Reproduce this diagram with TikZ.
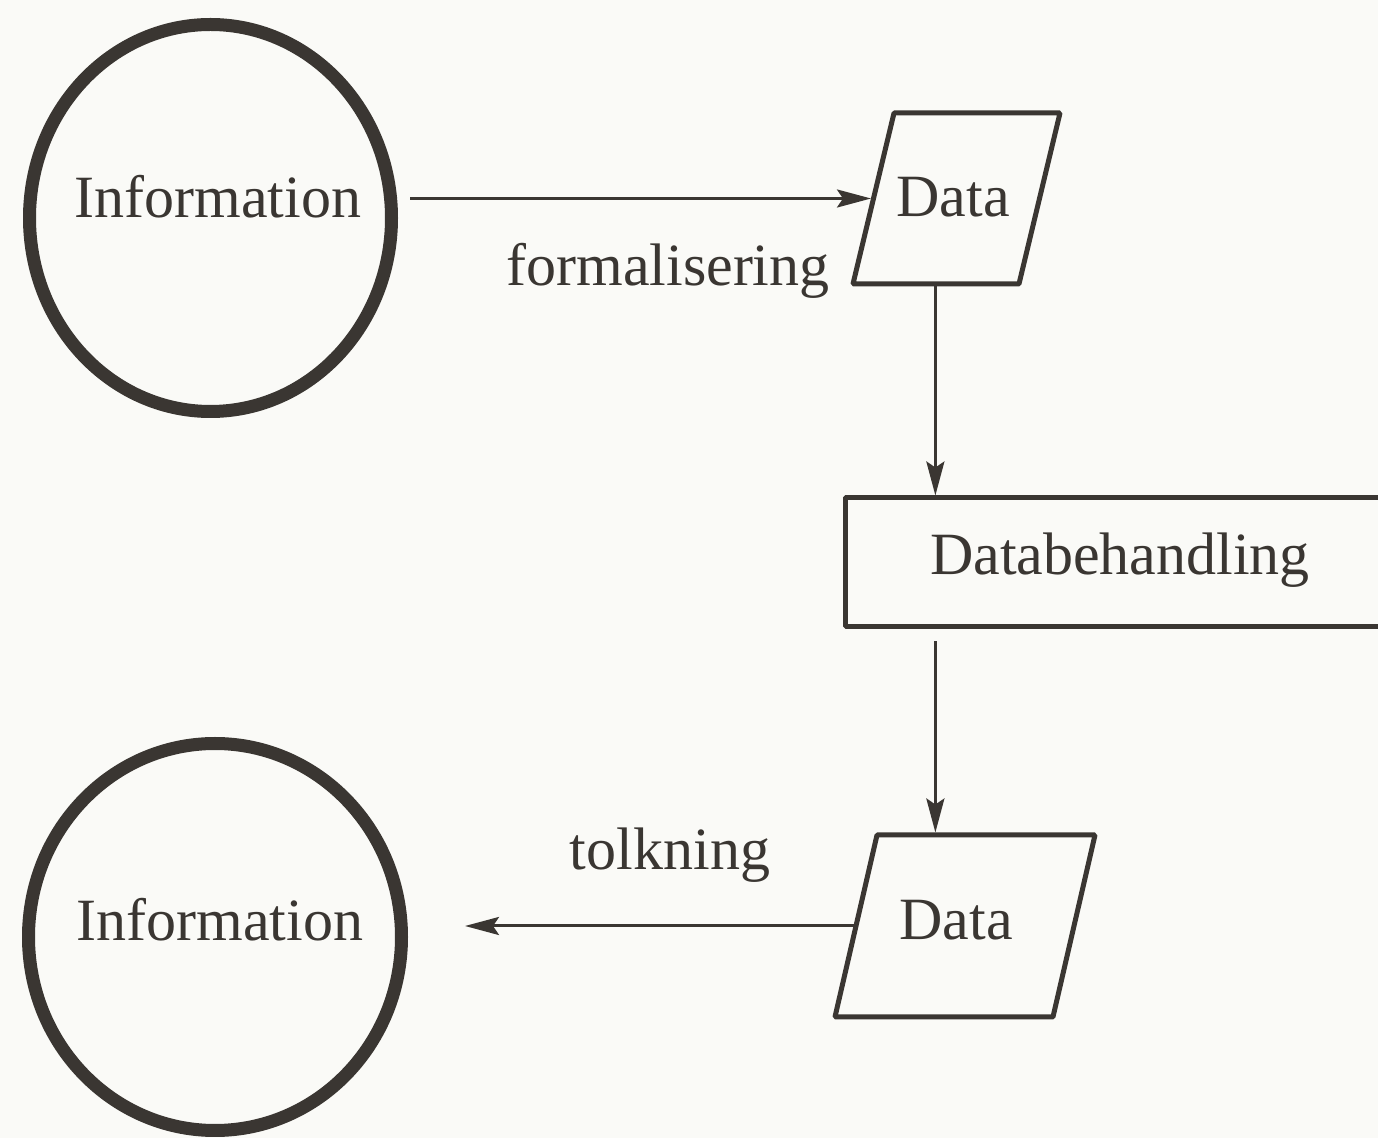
\documentclass[tikz,border=0pt]{standalone}
\usepackage{fontspec}
\setmainfont{Liberation Serif}
\usetikzlibrary{arrows.meta,shapes.geometric}
\definecolor{ink}{RGB}{58,54,50}
\definecolor{paper}{RGB}{250,250,247}

\begin{document}
\begin{tikzpicture}[x=0.5pt,y=-0.5pt,>={Stealth[length=17pt,width=9pt,inset=3pt]},line join=bevel,
  infocircle/.style={ellipse,draw=ink,line width=6.5pt,inner sep=0pt},
  datashape/.style={rectangle,draw=ink,line width=2.5pt,inner sep=0pt},
  procbox/.style={rectangle,draw=ink,line width=2.5pt,inner sep=0pt},
  lbl/.style={text=ink,font=\fontsize{30}{36}\selectfont,inner sep=0pt},
  flow/.style={->,draw=ink,line width=1.5pt}]
\useasboundingbox[fill=paper] (0,0) rectangle (1378,1138);

% Node: infoA
\node[infocircle,minimum width=181pt,minimum height=193.5pt] (infoA) at (210.5,218) {};
\node[lbl] (infoAtxt) at (218,197) {Information};

% Node: dataA
\node[datashape,xslant=0.24,minimum width=83pt,minimum height=85.5pt] (dataA) at (956.5,198.5) {};
\node[lbl] (dataAtxt) at (953,197) {Data};

% Node: proc
\node[procbox,minimum width=275pt,minimum height=64.5pt] (proc) at (1120,562.5) {};
\node[lbl] (proctxt) at (1120,560) {Databehandling};

% Node: dataB
\node[datashape,xslant=0.231,minimum width=109pt,minimum height=91pt] (dataB) at (965,926) {};
\node[lbl] (dataBtxt) at (956,920) {Data};

% Node: infoB
\node[infocircle,minimum width=186.5pt,minimum height=193.5pt] (infoB) at (215,937) {};
\node[lbl] (infoBtxt) at (220,920) {Information};

% Edge: infoA -> dataA
\draw[flow,shorten <=6pt] (infoA.east |- dataA.west) -- (dataA.west);
\node[lbl] (formal) at (668,271) {formalisering};

% Edge: dataA -> proc
\draw[flow] (dataA.south) -- (dataA.south |- proc.north);

% Edge: proc -> dataB
\draw[flow,shorten <=6pt] (proc.south -| dataA.south) -- (dataA.south |- dataB.north);

% Edge: dataB -> infoB
\draw[flow,shorten >=28.5pt] (dataB.west) -- (infoB.east |- dataB.west);
\node[lbl] (tolk) at (670,855) {tolkning};
\end{tikzpicture}
\end{document}
